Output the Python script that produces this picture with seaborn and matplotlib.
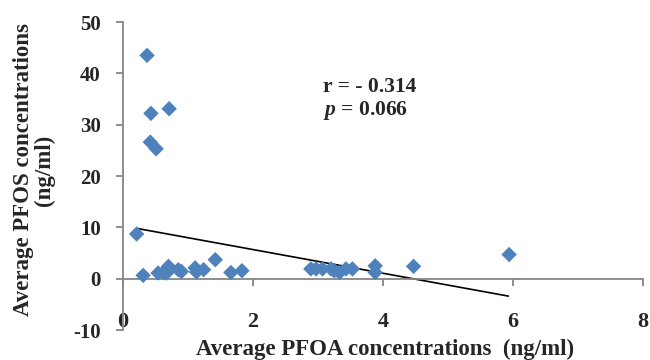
import numpy as np
import pandas as pd
import matplotlib
matplotlib.use("Agg")
import matplotlib.pyplot as plt
import seaborn as sns

pfoa = [0.37, 0.43, 0.71, 0.42, 0.51, 0.21, 0.31, 0.54, 0.62, 0.70, 0.67, 0.85, 0.90,
        1.11, 1.13, 1.24, 1.42, 1.66, 1.83, 2.89, 2.97, 3.07, 3.20, 3.25, 3.33, 3.43,
        3.53, 3.88, 3.88, 4.47, 5.94]
pfos = [43.5, 32.2, 33.1, 26.6, 25.3, 8.7, 0.65, 1.1, 1.2, 2.4, 1.1, 1.75, 1.4,
        2.1, 1.3, 1.75, 3.7, 1.2, 1.55, 1.9, 1.9, 1.9, 1.9, 1.55, 1.2, 1.9,
        1.9, 2.5, 1.2, 2.4, 4.7]
trend_x = [0.21, 5.93]
trend_y = [9.8, -3.4]
x_ticks = [0, 2, 4, 6, 8]
y_ticks = [-10, 0, 10, 20, 30, 40, 50]

df = pd.DataFrame({"PFOA": pfoa, "PFOS": pfos})
trend = pd.DataFrame({"x": trend_x, "y": trend_y})

sns.set_style("white")
plt.rcParams["font.family"] = ["Liberation Serif", "DejaVu Serif"]
plt.rcParams["mathtext.fontset"] = "custom"
plt.rcParams["mathtext.bfit"] = "Liberation Serif:italic:bold"
plt.rcParams["mathtext.rm"] = "Liberation Serif:bold"

fig = plt.figure(figsize=(6.5, 3.6), dpi=100)
ax = fig.add_axes([123/650, 30/360, 520/650, 308/360])

sns.lineplot(data=trend, x="x", y="y", ax=ax, color="black", lw=1.2, zorder=2)
sns.scatterplot(data=df, x="PFOA", y="PFOS", ax=ax, marker="D", s=62,
                color="#4F81BD", edgecolor="none", zorder=3)

for s in ["top", "right"]:
    ax.spines[s].set_visible(False)
ax.spines["bottom"].set_position(("data", 0))
for s in ["left", "bottom"]:
    ax.spines[s].set_color("#868686")
    ax.spines[s].set_linewidth(1.3)

ax.set_xlim(0, 8)
ax.set_ylim(-10, 50)
ax.set_xticks(x_ticks)
ax.set_yticks(y_ticks)
ax.set_xticklabels([str(v) for v in x_ticks])
ax.set_yticklabels([str(v) for v in y_ticks])
ax.set_xlabel("")
ax.set_ylabel("")
ax.tick_params(axis="y", direction="out", length=5, color="#868686", width=1.3,
               pad=11, left=True, labelsize=15)
ax.tick_params(axis="x", direction="out", length=5, color="#868686", width=1.3,
               pad=19, bottom=True, labelsize=16)
for lab in ax.get_xticklabels() + ax.get_yticklabels():
    lab.set_fontweight("bold")

fig.text(323/650, 1 - 87/360, "r = - 0.314", fontsize=15.5, fontweight="bold",
         va="center", ha="left")
fig.text(323/650, 1 - 110/360, r"$\mathbfit{p}$ = 0.066", fontsize=15.5,
         fontweight="bold", va="center", ha="left")

fig.text(385/650, 1 - 349/360, "Average PFOA concentrations  (ng/ml)", fontsize=16.5,
         fontweight="bold", ha="center", va="center")
fig.text(34/650, 1 - 170/360, "Average PFOS concentrations\n(ng/ml)", fontsize=16.5,
         fontweight="bold", ha="center", va="center", rotation=90, linespacing=1.0)

fig.savefig("out.png", dpi=100)
